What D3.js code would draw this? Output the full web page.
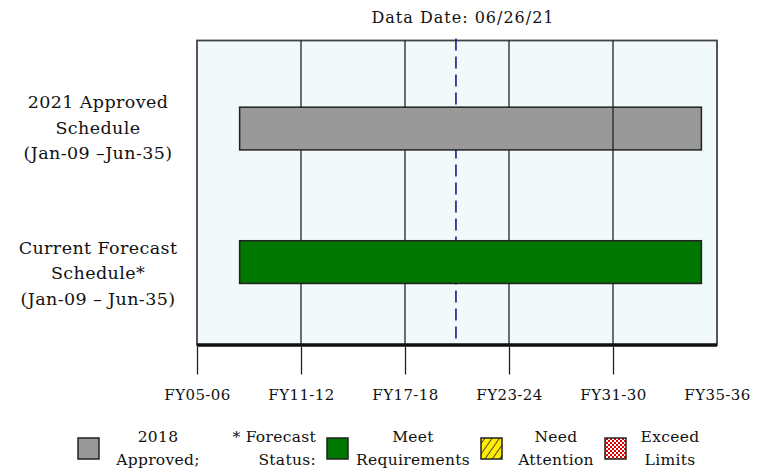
<!DOCTYPE html>
<html>
<head>
<meta charset="utf-8">
<script src="https://cdn.jsdelivr.net/npm/d3@7"></script>
<style>
  body { margin: 0; background: #fff; }
  text { font-family: "DejaVu Serif", serif; fill: #111; }
</style>
</head>
<body>
<div id="chart"></div>
<script>
// axis tick labels (equally spaced)
var tickLabels = ["FY05-06", "FY11-12", "FY17-18", "FY23-24", "FY31-30", "FY35-36"];

// schedule rows
var rowLabels = [
    ["2021 Approved", "Schedule", "(Jan-09 \u2013Jun-35)"],
    ["Current Forecast", "Schedule*", "(Jan-09 \u2013 Jun-35)"]
];
var rowKeys = ["approved", "forecast"];
var barStart = [0.41, 0.41];   // position on tick scale
var barEnd = [4.85, 4.85];
var barColors = ["#999999", "#007700"];

var dataDate = 2.49;
var dataDateLabel = "Data Date: 06/26/21";

var legendLabels = [["2018", "Approved;"], ["* Forecast", "Status:"], ["Meet", "Requirements"], ["Need", "Attention"], ["Exceed", "Limits"]];

function init() {
    var w = 772, h = 470;
    var left = 197, right = 717, top = 40.5, bottom = 345;

    var svg = d3.select("#chart").append("svg")
        .attr("width", w)
        .attr("height", h);

    var defs = svg.append("defs");
    var hatch = defs.append("pattern").attr("id", "hatch")
        .attr("width", 6).attr("height", 6)
        .attr("patternUnits", "userSpaceOnUse")
        .attr("patternTransform", "rotate(35)");
    hatch.append("rect").attr("width", 6).attr("height", 6).attr("fill", "#ffee00");
    hatch.append("line").attr("x1", 0).attr("y1", 0).attr("x2", 0).attr("y2", 6)
        .attr("stroke", "#222").attr("stroke-width", 1.6);
    var checks = defs.append("pattern").attr("id", "checks")
        .attr("width", 4).attr("height", 4)
        .attr("patternUnits", "userSpaceOnUse");
    checks.append("rect").attr("width", 4).attr("height", 4).attr("fill", "#fff");
    checks.append("rect").attr("width", 2).attr("height", 2).attr("fill", "#e00000");
    checks.append("rect").attr("x", 2).attr("y", 2).attr("width", 2).attr("height", 2).attr("fill", "#e00000");

    var x = d3.scaleLinear()
        .domain([0, tickLabels.length - 1])
        .range([left, right]);

    var y = d3.scaleBand()
        .domain(rowKeys)
        .range([top, bottom])
        .paddingInner(0.68)
        .paddingOuter(0.48)
        .align(0.52);

    // title
    svg.append("text")
        .attr("x", 463).attr("y", 23)
        .attr("text-anchor", "middle")
        .style("font-size", "16px")
        .style("letter-spacing", "1px")
        .text(dataDateLabel);

    // plot background
    svg.append("rect")
        .attr("x", left).attr("y", top)
        .attr("width", right - left).attr("height", bottom - top)
        .attr("fill", "#f1f9fb")
        .attr("stroke", "#444").attr("stroke-width", 1.8);

    // gridlines
    var grid = svg.append("g");
    grid.selectAll("line")
        .data(d3.range(1, tickLabels.length - 1))
        .enter().append("line")
        .attr("x1", function (d) { return x(d); })
        .attr("x2", function (d) { return x(d); })
        .attr("y1", top).attr("y2", bottom)
        .attr("stroke", "#222").attr("stroke-width", 1.3);

    // data date line
    svg.append("line")
        .attr("x1", x(dataDate)).attr("x2", x(dataDate))
        .attr("y1", top - 2).attr("y2", bottom)
        .attr("stroke", "#1c1c8a").attr("stroke-width", 1.6)
        .attr("stroke-dasharray", "12,6");

    // bars
    svg.append("g").selectAll("rect")
        .data(rowKeys)
        .enter().append("rect")
        .attr("x", function (d, i) { return x(barStart[i]); })
        .attr("width", function (d, i) { return x(barEnd[i]) - x(barStart[i]); })
        .attr("y", function (d) { return y(d); })
        .attr("height", y.bandwidth())
        .attr("fill", function (d, i) { return barColors[i]; })
        .attr("stroke", "#222").attr("stroke-width", 1.5);

    // gridline that shows over the approved bar
    svg.append("line")
        .attr("x1", x(4)).attr("x2", x(4))
        .attr("y1", y("approved")).attr("y2", y("approved") + y.bandwidth())
        .attr("stroke", "#222").attr("stroke-width", 1.3);

    // bottom axis
    svg.append("line")
        .attr("x1", left).attr("x2", right)
        .attr("y1", bottom).attr("y2", bottom)
        .attr("stroke", "#111").attr("stroke-width", 3.5);

    var xAxis = d3.axisBottom(x)
        .tickValues(d3.range(tickLabels.length))
        .tickFormat(function (d) { return tickLabels[d]; })
        .tickSize(28)
        .tickPadding(15);

    var ax = svg.append("g")
        .attr("transform", "translate(0," + (bottom + 1.5) + ")")
        .call(xAxis);
    ax.select(".domain").remove();
    ax.selectAll(".tick line").attr("stroke", "#222").attr("stroke-width", 1.3)
        .filter(function (d) { return d === tickLabels.length - 1; }).remove();
    ax.selectAll(".tick text")
        .style("font-family", "'DejaVu Serif', serif")
        .style("font-size", "15px")
        .style("letter-spacing", "0.4px")
        .attr("fill", "#111");

    // row labels
    var labelShift = [-1, 11];
    rowKeys.forEach(function (k, i) {
        var cy = y(k) + y.bandwidth() / 2 + labelShift[i];
        var t = svg.append("text")
            .attr("text-anchor", "middle")
            .style("font-size", "17.5px")
            .style("letter-spacing", "0.4px");
        rowLabels[i].forEach(function (line, j) {
            t.append("tspan")
                .attr("x", 98)
                .attr("y", cy + (j - 1) * 25.5 + 6)
                .text(line);
        });
    });

    // legend
    var lg = svg.append("g");
    var boxes = [
        { x: 78, fill: "#999999" },
        { x: 327, fill: "#007700" },
        { x: 481, fill: "url(#hatch)" },
        { x: 605, fill: "url(#checks)" }
    ];
    lg.selectAll("rect")
        .data(boxes)
        .enter().append("rect")
        .attr("x", function (d) { return d.x; })
        .attr("y", 438)
        .attr("width", 21).attr("height", 21)
        .attr("fill", function (d) { return d.fill; })
        .attr("stroke", "#222").attr("stroke-width", 1.5);

    var legendPos = [
        { x: 158, anchor: "middle" },
        { x: 316, anchor: "end" },
        { x: 413, anchor: "middle" },
        { x: 556, anchor: "middle" },
        { x: 670, anchor: "middle" }
    ];
    legendLabels.forEach(function (lines, i) {
        var t = lg.append("text")
            .attr("text-anchor", legendPos[i].anchor)
            .style("font-size", "15.5px")
            .style("letter-spacing", "0.3px");
        lines.forEach(function (line, j) {
            t.append("tspan")
                .attr("x", legendPos[i].x)
                .attr("y", 442 + j * 23)
                .text(line);
        });
    });
}
window.onload = init;
</script>
</body>
</html>
